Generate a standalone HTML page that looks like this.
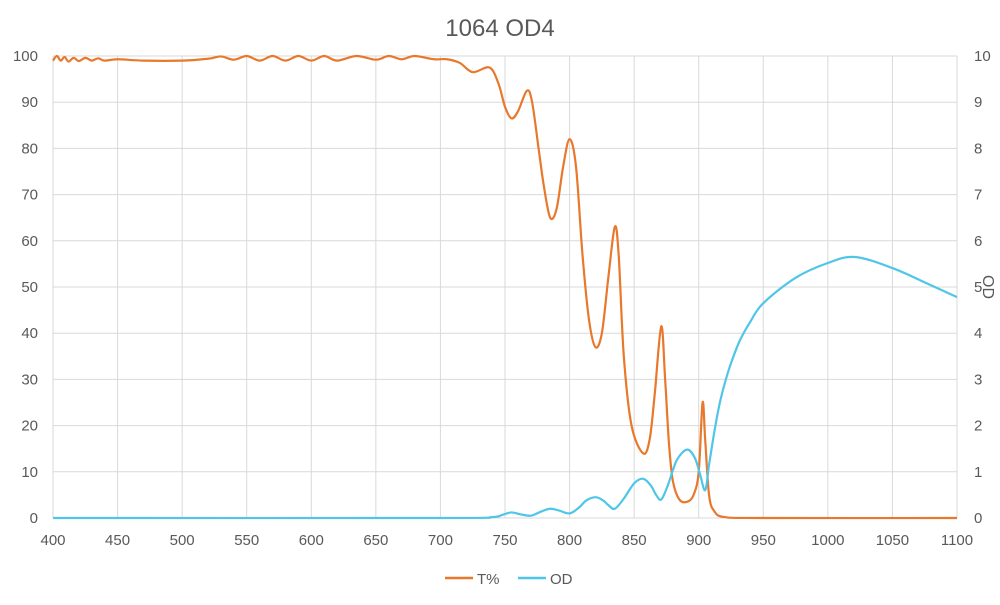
<!DOCTYPE html>
<html><head><meta charset="utf-8"><style>
body{margin:0;background:#fff;font-family:"Liberation Sans",sans-serif}
svg text{font-family:"Liberation Sans",sans-serif;fill:#595959}
</style></head><body>
<svg id="chart" width="1000" height="600">
<text x="500" y="36" font-size="24" text-anchor="middle">1064 OD4</text>
<g id="grid"></g><g id="axes"></g><g id="series"></g>
<text transform="translate(983,287) rotate(90)" font-size="16" text-anchor="middle">OD</text>
<g>
<line x1="445" y1="578" x2="473" y2="578" stroke="#E8782C" stroke-width="2.5"/>
<text x="477" y="584" font-size="15">T%</text>
<line x1="518" y1="578" x2="546" y2="578" stroke="#4FC6E8" stroke-width="2.5"/>
<text x="550" y="584" font-size="15">OD</text>
</g>
</svg>
<script>
const xTicks=[400,450,500,550,600,650,700,750,800,850,900,950,1000,1050,1100];
const yTicks=[0,10,20,30,40,50,60,70,80,90,100];
const y2Ticks=[0,1,2,3,4,5,6,7,8,9,10];
const tWl=[400,403,406,409,412,416,420,425,430,435,440,450,470,500,520,530,540,550,560,570,580,590,600,610,620,635,650,660,670,680,695,705,715,725,738,745,750,755,760,767,771,776,780,785,790,795,800,805,810,815,820,825,830,835,838,842,848,857,862,866,871,874,877,880,885,891,896,900,903,905,908,912,920,950,1100];
const tVal=[99,100,99,99.8,98.8,99.6,98.9,99.6,99,99.5,99,99.3,99,99,99.4,99.9,99.2,100,99,100,99,100,99,100,99,100,99.2,100,99.3,100,99.3,99.3,98.5,96.5,97.5,94,89,86.5,88,92.5,90,80,72,65,67,76,82,76,57,43,37,40,52,63,57,35,20,14,17,27,41.5,30,16,8,4,3.5,5,10,25,17,5,1.5,0.2,0,0];
const odWl=[400,700,740,748,755,762,770,778,785,792,800,807,813,820,826,830,835,842,850,857,863,867,871,876,883,891,897,901,905,908,912,916,920,925,932,940,950,975,1000,1021,1050,1075,1100];
const odVal=[0,0,0.02,0.07,0.12,0.08,0.05,0.14,0.2,0.16,0.1,0.22,0.38,0.45,0.38,0.28,0.2,0.42,0.75,0.85,0.7,0.5,0.4,0.7,1.25,1.48,1.3,0.95,0.6,1.15,1.85,2.45,2.9,3.35,3.85,4.25,4.65,5.2,5.52,5.65,5.41,5.1,4.78];
const X0=53,X1=957,Y0=518,Y1=56;
const sx=v=>X0+(v-400)/700*(X1-X0);
const sy=v=>Y0-v/100*(Y0-Y1);
const sy2=v=>Y0-v/10*(Y0-Y1);
const NS="http://www.w3.org/2000/svg";
function mk(t,a,p){const e=document.createElementNS(NS,t);for(const k in a)e.setAttribute(k,a[k]);p.appendChild(e);return e;}
const grid=document.getElementById('grid'),axes=document.getElementById('axes'),ser=document.getElementById('series');
xTicks.forEach(v=>{const l=mk('line',{x1:sx(v),x2:sx(v),y1:Y1,y2:Y0,stroke:'#d9d9d9','stroke-width':1},grid);


const t=mk('text',{x:sx(v),y:Y0+27,'font-size':15,'text-anchor':'middle'},axes);t.textContent=v;

});
yTicks.forEach(v=>{const l=mk('line',{x1:X0,x2:X1,y1:sy(v),y2:sy(v),stroke:'#d9d9d9','stroke-width':1},grid);


const t=mk('text',{x:38,y:sy(v)+5,'font-size':15,'text-anchor':'end'},axes);t.textContent=v;

});
y2Ticks.forEach(v=>{const t=mk('text',{x:974,y:sy2(v)+5,'font-size':15},axes);t.textContent=v;

});
function path(xs,ys,fy){const p=xs.map((x,i)=>[sx(x),fy(ys[i])]);let d='M'+p[0][0]+','+p[0][1];
for(let i=0;i<p.length-1;i++){const a=p[Math.max(i-1,0)],b=p[i],c=p[i+1],e=p[Math.min(i+2,p.length-1)];
const c1=[b[0]+(c[0]-a[0])/6,b[1]+(c[1]-a[1])/6],c2=[c[0]-(e[0]-b[0])/6,c[1]-(e[1]-b[1])/6];
d+=`C${c1[0]},${c1[1]} ${c2[0]},${c2[1]} ${c[0]},${c[1]}`;}return d;}
const pt=mk('path',{d:path(tWl,tVal,sy),fill:'none',stroke:'#E8782C','stroke-width':2.2},ser);


const po=mk('path',{d:path(odWl,odVal,sy2),fill:'none',stroke:'#4FC6E8','stroke-width':2.2},ser);


</script>
</body></html>
